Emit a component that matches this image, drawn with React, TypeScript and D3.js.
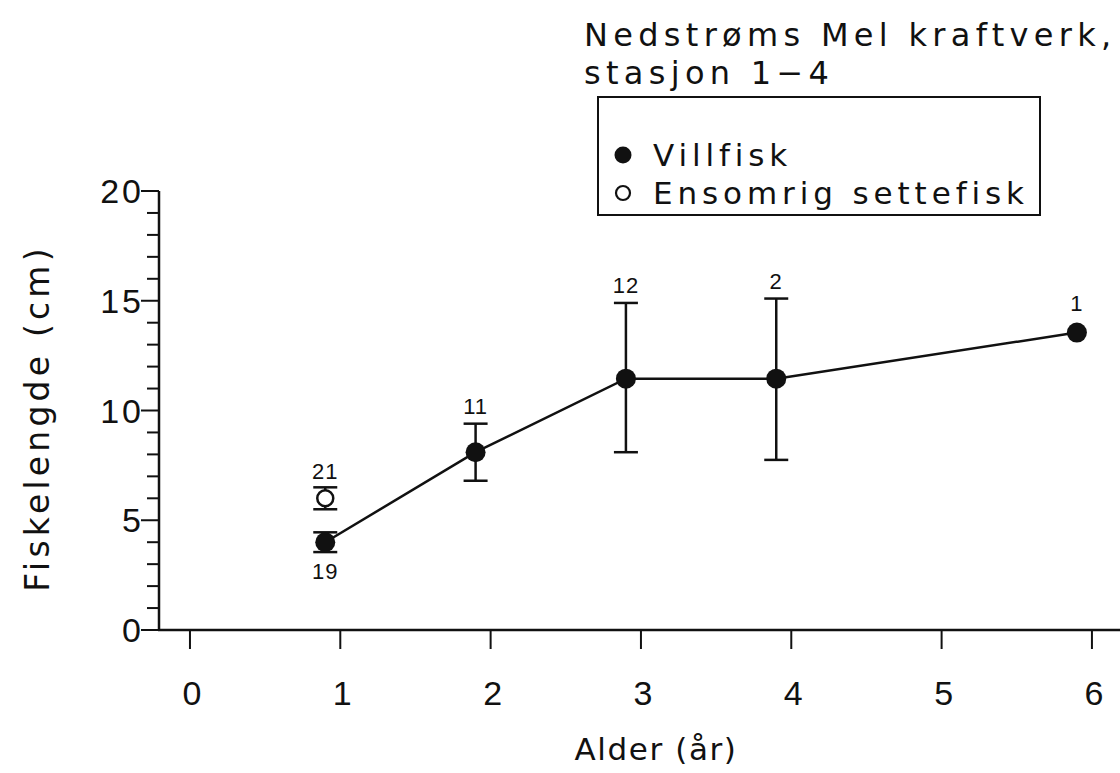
import { useEffect, useRef } from "react";
import * as d3 from "d3";

// Villfisk (wild fish)
const wildAge = [0.9, 1.9, 2.9, 3.9, 5.9];
const wildMean = [4.0, 8.1, 11.45, 11.45, 13.55];
const wildHi = [4.45, 9.4, 14.9, 15.1, 13.55];
const wildLo = [3.55, 6.8, 8.1, 7.75, 13.55];
const wildN = ["19", "11", "12", "2", "1"];

// Ensomrig settefisk (one-summer stocked fish)
const stockAge = [0.9];
const stockMean = [6.0];
const stockHi = [6.5];
const stockLo = [5.5];
const stockN = ["21"];

const xTicks = [0, 1, 2, 3, 4, 5, 6];
const yTicks = [0, 5, 10, 15, 20];
const yMinor = d3.range(0, 21, 1);

const W = 1120;
const H = 773;
const FONT = "'Liberation Sans', Arial, Helvetica, sans-serif";
const WIDE = "'DejaVu Sans', 'Liberation Sans', sans-serif";

export default function App() {
  const svgRef = useRef<SVGSVGElement | null>(null);

  useEffect(() => {
    const svg = d3.select(svgRef.current!);
    svg.selectAll("*").remove();

    const x = d3.scaleLinear().domain([-0.206, 6.2]).range([159, 1122]);
    const y = d3.scaleLinear().domain([0, 20]).range([630, 191]);

    const g = svg.append("g").style("font-family", FONT).attr("fill", "#111");

    // y axis: line + ticks
    g.append("line")
      .attr("x1", x(-0.206)).attr("x2", x(-0.206))
      .attr("y1", y(20)).attr("y2", y(0))
      .attr("stroke", "#111").attr("stroke-width", 2.5);
    g.selectAll(".ymin")
      .data(yMinor)
      .join("line")
      .attr("x1", (d) => x(-0.206) - (d % 5 === 0 ? 18 : 12))
      .attr("x2", x(-0.206))
      .attr("y1", (d) => y(d)).attr("y2", (d) => y(d))
      .attr("stroke", "#111").attr("stroke-width", 2);
    g.selectAll(".ylab")
      .data(yTicks)
      .join("text")
      .attr("x", 144)
      .attr("y", (d) => y(d))
      .attr("dy", "0.36em")
      .attr("text-anchor", "end")
      .style("font-size", "34px")
      .style("letter-spacing", "3px")
      .text((d) => d);

    // x axis
    g.append("line")
      .attr("x1", x(-0.206) - 1).attr("x2", W)
      .attr("y1", y(0)).attr("y2", y(0))
      .attr("stroke", "#111").attr("stroke-width", 2.5);
    g.selectAll(".xt")
      .data(xTicks)
      .join("line")
      .attr("x1", (d) => x(d)).attr("x2", (d) => x(d))
      .attr("y1", y(0)).attr("y2", y(0) + 19)
      .attr("stroke", "#111").attr("stroke-width", 2);
    g.selectAll(".xlab")
      .data(xTicks)
      .join("text")
      .attr("x", (d) => x(d) + 2)
      .attr("y", 705)
      .attr("text-anchor", "middle")
      .style("font-size", "34px")
      .text((d) => d);

    // axis titles
    g.append("text")
      .attr("transform", `translate(49,${y(9.66)}) rotate(-90)`)
      .attr("text-anchor", "middle")
      .style("font-family", WIDE)
      .style("font-size", "33px")
      .style("letter-spacing", "4.2px")
      .text("Fiskelengde (cm)");
    g.append("text")
      .attr("x", 656).attr("y", 760)
      .attr("text-anchor", "middle")
      .style("font-family", WIDE)
      .style("font-size", "31px")
      .style("letter-spacing", "1.6px")
      .text("Alder (år)");

    // title
    g.append("text")
      .attr("x", 584).attr("y", 46)
      .style("font-family", WIDE)
      .style("font-size", "32px")
      .style("letter-spacing", "5.3px")
      .text("Nedstrøms Mel kraftverk,");
    g.append("text")
      .attr("x", 584).attr("y", 84)
      .style("font-family", WIDE)
      .style("font-size", "32px")
      .style("letter-spacing", "5.3px")
      .text("stasjon 1\u22124");

    // legend
    g.append("rect")
      .attr("x", 598).attr("y", 97).attr("width", 442).attr("height", 118)
      .attr("fill", "none").attr("stroke", "#111").attr("stroke-width", 2);
    g.append("circle").attr("cx", 623).attr("cy", 155).attr("r", 8.5).attr("fill", "#111");
    g.append("circle").attr("cx", 623).attr("cy", 193).attr("r", 7)
      .attr("fill", "#fff").attr("stroke", "#111").attr("stroke-width", 2.2);
    g.append("text").attr("x", 653).attr("y", 155).attr("dy", "0.36em")
      .style("font-family", WIDE)
      .style("font-size", "31px").style("letter-spacing", "4.9px").text("Villfisk");
    g.append("text").attr("x", 653).attr("y", 193).attr("dy", "0.36em")
      .style("font-family", WIDE)
      .style("font-size", "31px").style("letter-spacing", "4.9px").text("Ensomrig settefisk");

    const cap = 12;
    const drawErr = (ages: number[], hi: number[], lo: number[]) => {
      ages.forEach((a, i) => {
        if (hi[i] === lo[i]) return;
        const cx = x(a);
        g.append("line").attr("x1", cx).attr("x2", cx).attr("y1", y(hi[i])).attr("y2", y(lo[i]))
          .attr("stroke", "#111").attr("stroke-width", 2.5);
        [hi[i], lo[i]].forEach((v) => {
          g.append("line").attr("x1", cx - cap).attr("x2", cx + cap).attr("y1", y(v)).attr("y2", y(v))
            .attr("stroke", "#111").attr("stroke-width", 2.5);
        });
      });
    };

    // wild line
    const line = d3.line<number>().x((_, i) => x(wildAge[i])).y((d) => y(d));
    g.append("path").attr("d", line(wildMean)!)
      .attr("fill", "none").attr("stroke", "#111").attr("stroke-width", 2.5);

    drawErr(wildAge, wildHi, wildLo);
    drawErr(stockAge, stockHi, stockLo);

    g.selectAll(".wpt")
      .data(wildMean)
      .join("circle")
      .attr("cx", (_, i) => x(wildAge[i])).attr("cy", (d) => y(d))
      .attr("r", 10).attr("fill", "#111");
    g.selectAll(".spt")
      .data(stockMean)
      .join("circle")
      .attr("cx", (_, i) => x(stockAge[i])).attr("cy", (d) => y(d))
      .attr("r", 8).attr("fill", "#fff").attr("stroke", "#111").attr("stroke-width", 2.5);

    // n labels
    g.selectAll(".wn")
      .data(wildN)
      .join("text")
      .attr("x", (_, i) => x(wildAge[i]))
      .attr("y", (_, i) =>
        i === 0 ? y(wildLo[i]) + 27 : y(wildHi[i]) - (wildHi[i] === wildLo[i] ? 22 : 10))
      .attr("text-anchor", "middle")
      .style("font-size", "22px")
      .style("letter-spacing", "1px")
      .text((d) => d);
    g.selectAll(".sn")
      .data(stockN)
      .join("text")
      .attr("x", (_, i) => x(stockAge[i]))
      .attr("y", (_, i) => y(stockHi[i]) - 8)
      .attr("text-anchor", "middle")
      .style("font-size", "22px")
      .style("letter-spacing", "1px")
      .text((d) => d);
  }, []);

  return (
    <svg
      ref={svgRef}
      width={W}
      height={H}
      style={{ position: "absolute", left: 0, top: 0, background: "#fff" }}
    />
  );
}
